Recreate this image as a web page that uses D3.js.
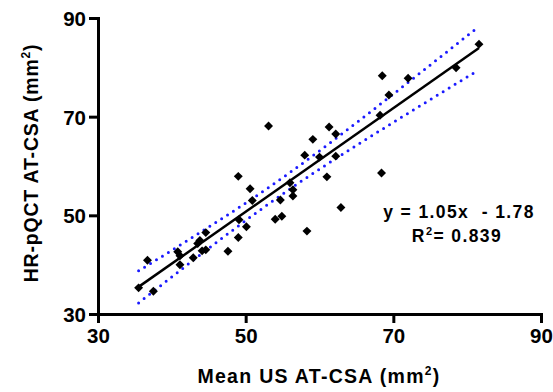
<!DOCTYPE html>
<html>
<head>
<meta charset="utf-8">
<script src="https://cdn.jsdelivr.net/npm/d3@7"></script>
<style>
  body { margin: 0; background: #fff; }
  svg text { font-family: "Liberation Sans", Arial, sans-serif; font-weight: bold; fill: #000; }
</style>
</head>
<body>
<svg id="chart" width="553" height="392"></svg>
<script>
// mean US AT-CSA (x) vs HR-pQCT AT-CSA (y), mm²
const usCsa = [35.5, 37.5, 36.7, 40.8, 41.1, 41.1, 42.9, 43.5, 43.8, 44.6, 44.1, 44.6, 47.6, 49.0,
  50.6, 50.9, 49.1, 50.1, 49.0, 53.1, 54.7, 54.0, 54.9, 56.0, 56.4, 56.4, 58.0, 58.3, 59.1, 60.0,
  61.3, 62.2, 62.2, 61.0, 62.9, 68.4, 68.5, 72.0, 69.4, 68.2, 78.5, 81.6];
const pqctCsa = [35.3, 34.6, 40.9, 42.6, 41.8, 40.0, 41.4, 44.3, 44.9, 46.5, 42.8, 43.0, 42.7, 57.9,
  55.4, 53.0, 49.1, 47.7, 45.5, 68.1, 53.1, 49.2, 49.8, 56.6, 55.2, 53.9, 62.2, 46.8, 65.4, 61.8,
  67.9, 66.5, 62.0, 57.8, 51.6, 58.6, 78.3, 77.8, 74.4, 70.3, 79.9, 84.7];
const ticks = [30, 50, 70, 90];
const slope = 1.05, intercept = -1.78;
const eqLines = ["y = 1.05x  - 1.78", "0.839"];

const svg = d3.select("#chart");
const x = d3.scaleLinear().domain([30, 90]).range([98, 541]);
const y = d3.scaleLinear().domain([30, 90]).range([314, 18]);

const pts = usCsa.map((v, i) => ({ x: v, y: pqctCsa[i] }));

// 95% confidence band of the fit
const n = pts.length,
  xbar = d3.mean(pts, (d) => d.x),
  sxx = d3.sum(pts, (d) => (d.x - xbar) ** 2),
  s = Math.sqrt(d3.sum(pts, (d) => (d.y - (slope * d.x + intercept)) ** 2) / (n - 2)),
  t = 2.021;
const [x0, x1] = d3.extent(usCsa);
const band = d3.range(0, 101).map((i) => {
  const xv = x0 + ((x1 - x0) * i) / 100;
  const half = t * s * Math.sqrt(1 / n + (xv - xbar) ** 2 / sxx);
  const fit = slope * xv + intercept;
  return { x: xv, lo: fit - half, hi: fit + half };
});

const line = d3.line().x((d) => x(d[0])).y((d) => y(d[1]));

["hi", "lo"].forEach((k) => {
  svg.append("path")
    .attr("d", line(band.map((b) => [b.x, b[k]])))
    .attr("fill", "none")
    .attr("stroke", "#1a1aff")
    .attr("stroke-width", 3)
    .attr("stroke-linecap", "round")
    .attr("stroke-dasharray", "0 7");
});

svg.append("path")
  .attr("d", line([[x0, slope * x0 + intercept], [x1, slope * x1 + intercept]]))
  .attr("fill", "none")
  .attr("stroke", "#000")
  .attr("stroke-width", 2.5);

svg.append("g")
  .selectAll("path")
  .data(pts)
  .join("path")
  .attr("d", d3.symbol(d3.symbolSquare, 40))
  .attr("transform", (d) => `translate(${x(d.x)},${y(d.y)}) rotate(45)`)
  .attr("fill", "#000");

// axes
const xAxis = svg.append("g")
  .attr("transform", "translate(0,314)")
  .call(d3.axisBottom(x).tickValues(ticks).tickSize(9).tickPadding(5).tickSizeOuter(0));
const yAxis = svg.append("g")
  .attr("transform", "translate(98,0)")
  .call(d3.axisLeft(y).tickValues(ticks).tickSize(9).tickPadding(3).tickSizeOuter(0));
[xAxis, yAxis].forEach((a) => {
  a.select(".domain").attr("stroke", "#000").attr("stroke-width", 3).attr("stroke-linecap", "square");
  a.selectAll(".tick line").attr("stroke", "#000").attr("stroke-width", 3);
  a.selectAll(".tick text")
    .style("font-size", "20.5px")
    .style("font-family", "Liberation Sans, Arial, sans-serif")
    .style("font-weight", "bold");
});
yAxis.selectAll(".tick text").attr("dy", "0.36em");

// titles
const xt = svg.append("text")
  .attr("x", 319).attr("y", 383)
  .attr("text-anchor", "middle")
  .style("font-size", "19.5px")
  .style("letter-spacing", "1.3px");
xt.append("tspan").text("Mean US AT-CSA (mm");
xt.append("tspan").attr("dy", -8).style("font-size", "12px").text("2");
xt.append("tspan").attr("dy", 8).text(")");

const yt = svg.append("text")
  .attr("transform", "translate(38,163) rotate(-90)")
  .attr("text-anchor", "middle")
  .style("font-size", "19.5px")
  .style("letter-spacing", "0.8px");
yt.append("tspan").text("HR-pQCT AT-CSA (mm");
yt.append("tspan").attr("dy", -8).style("font-size", "12px").text("2");
yt.append("tspan").attr("dy", 8).text(")");

// equation
svg.append("text")
  .attr("x", 459).attr("y", 218)
  .attr("text-anchor", "middle")
  .style("font-size", "17.5px")
  .style("letter-spacing", "1.4px")
  .style("white-space", "pre")
  .text(eqLines[0]);
const r2 = svg.append("text")
  .attr("x", 457).attr("y", 242)
  .attr("text-anchor", "middle")
  .style("font-size", "17.5px")
  .style("letter-spacing", "1.4px");
r2.append("tspan").text("R");
r2.append("tspan").attr("dy", -7).style("font-size", "11px").text("2");
r2.append("tspan").attr("dy", 7).text("= " + eqLines[1]);
</script>
</body>
</html>
